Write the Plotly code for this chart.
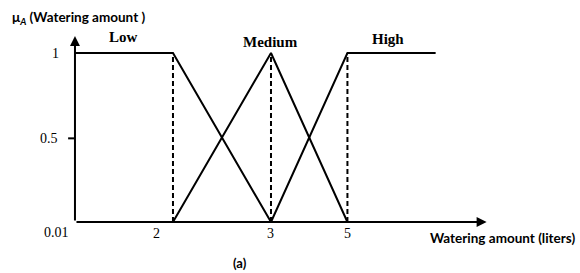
import plotly.graph_objects as go

# schematic x positions (plot units) of the labelled breakpoints
tick_labels = ["2", "3", "5"]
tick_pos = [1.0, 2.0, 2.78]
x_origin = 0.0
high_end = 3.68
x_arrow_end = 4.2
y_arrow_end = 1.10

y_labels = ["0.01", "0.5", "1"]
y_vals = [0.01, 0.5, 1.0]

low_x = [x_origin, tick_pos[0], tick_pos[1]]
low_y = [1.0, 1.0, 0.01]
med_x = [tick_pos[0], tick_pos[1], tick_pos[2]]
med_y = [0.01, 1.0, 0.01]
high_x = [tick_pos[1], tick_pos[2], high_end]
high_y = [0.01, 1.0, 1.0]

set_names = ["Low", "Medium", "High"]

fig = go.Figure()
line = dict(color="black", width=2)
for xs, ys, nm in [(low_x, low_y, "Low"), (med_x, med_y, "Medium"), (high_x, high_y, "High")]:
    fig.add_trace(go.Scatter(x=xs, y=ys, mode="lines", line=line, name=nm,
                             showlegend=False, hoverinfo="skip"))

# dashed verticals
for xp in tick_pos:
    fig.add_trace(go.Scatter(x=[xp, xp], y=[0.01, 1.0], mode="lines",
                             line=dict(color="black", width=2, dash="5px,3px"),
                             showlegend=False, hoverinfo="skip"))

# tick dash at 0.5
fig.add_trace(go.Scatter(x=[-0.07, 0], y=[0.5, 0.5], mode="lines", line=line,
                         showlegend=False, hoverinfo="skip"))

ann = []
# axes arrows
ann.append(dict(x=x_arrow_end, y=0.01, ax=x_origin, ay=0.01, xref="x", yref="y",
                axref="x", ayref="y", showarrow=True, arrowhead=2, arrowsize=1,
                arrowwidth=2, arrowcolor="black", text=""))
ann.append(dict(x=x_origin, y=y_arrow_end, ax=x_origin, ay=0.01, xref="x", yref="y",
                axref="x", ayref="y", showarrow=True, arrowhead=2, arrowsize=1,
                arrowwidth=2, arrowcolor="black", text=""))

serif = dict(family="Liberation Serif", size=14, color="black")
# x tick labels
x_label_pos = [tick_pos[0] - 0.17, tick_pos[1], tick_pos[2]]
for t, xp in zip(tick_labels, x_label_pos):
    ann.append(dict(x=xp, y=-0.06, text=t, showarrow=False, font=serif,
                    xref="x", yref="y"))
# y tick labels
y_label_x = [-0.19, -0.27, -0.2]
y_label_y = [-0.05, 0.5, 1.0]
for t, xp, yp in zip(y_labels, y_label_x, y_label_y):
    ann.append(dict(x=xp, y=yp, text=t, showarrow=False, font=serif,
                    xref="x", yref="y"))

# set names
name_pos = [(0.49, 1.095), (2.0, 1.065), (3.19, 1.08)]
for nm, (xp, yp) in zip(set_names, name_pos):
    ann.append(dict(x=xp, y=yp, text="<b>" + nm + "</b>", showarrow=False,
                    font=dict(family="Liberation Serif", size=15, color="black"),
                    xref="x", yref="y"))

sans = dict(family="Lato", size=13.5, color="black")
ann.append(dict(x=-0.66, y=1.205, text="<b>μ<sub><i>A</i></sub> (Watering amount )</b>",
                showarrow=False, font=sans, xref="x", yref="y", xanchor="left"))
ann.append(dict(x=5.12, y=-0.085, text="<b>Watering amount (liters)</b>",
                showarrow=False, font=dict(family="Lato", size=13.5, color="black"),
                xref="x", yref="y", xanchor="right"))
ann.append(dict(x=1.68, y=-0.23, text="<b>(a)</b>", showarrow=False,
                font=dict(family="Lato", size=13, color="black"),
                xref="x", yref="y"))

fig.update_layout(
    width=580, height=273,
    margin=dict(l=0, r=0, t=0, b=0),
    paper_bgcolor="white", plot_bgcolor="white",
    xaxis=dict(range=[-0.765, 5.153], visible=False, fixedrange=True),
    yaxis=dict(range=[-0.2888, 1.3105], visible=False, fixedrange=True),
    annotations=ann,
)

fig.write_html("out.html", config={"displayModeBar": False},
               post_script="document.body.style.margin='0';document.body.style.overflow='hidden';")
